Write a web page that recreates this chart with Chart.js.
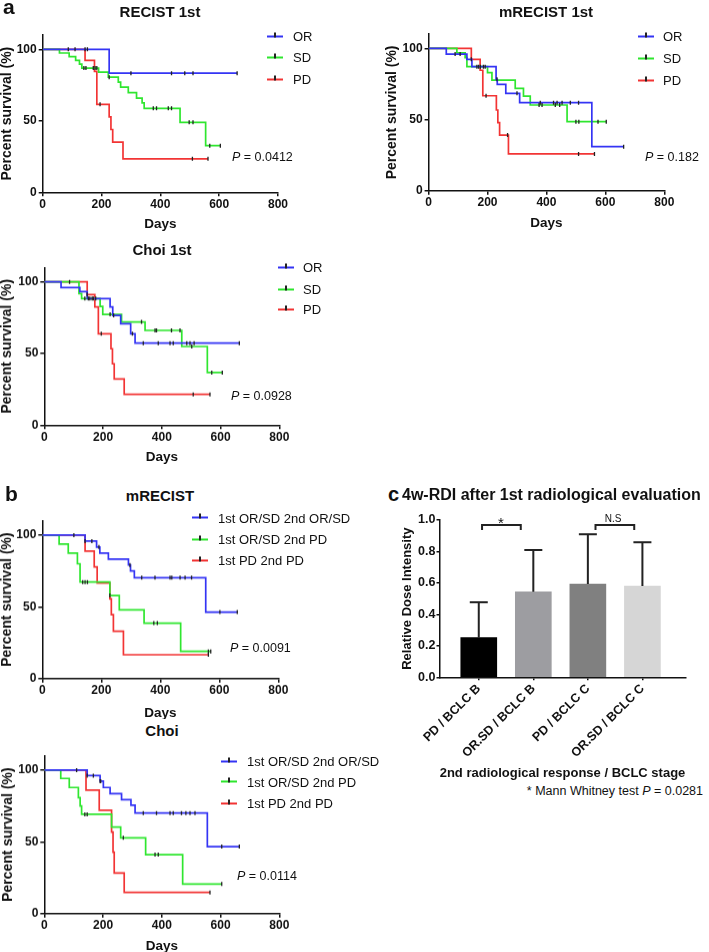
<!DOCTYPE html>
<html lang="en">
<head>
<meta charset="UTF-8" />
<title>Survival and RDI</title>
<script src="https://cdn.jsdelivr.net/npm/chart.js"></script>
<style>
  body { margin: 0; width: 709px; height: 952px; position: relative; background: #fff;
         font-family: "Liberation Sans", Arial, sans-serif; color: #111; overflow: hidden; }
  .box { position: absolute; }
  .t { position: absolute; white-space: nowrap; transform: translateY(-50%); }
  .c { transform: translate(-50%, -50%); }
  .title { font-weight: bold; font-size: 15px; }
  .letter { font-weight: bold; font-size: 21px; }
  .pval { font-size: 12.5px; }
  .leg { position: absolute; white-space: nowrap; font-size: 13px; transform: translateY(-50%); }
  .ln { position: absolute; top: 50%; height: 2px; width: 16px; margin-top: -1px; }
  .ln::after { content: ""; position: absolute; left: 7px; top: -3px; width: 1.5px; height: 5px; background: #222; }
</style>
</head>
<body>
<div class="box" id="wA1"><canvas id="a1"></canvas></div>
<div class="box" id="wA2"><canvas id="a2"></canvas></div>
<div class="box" id="wA3"><canvas id="a3"></canvas></div>
<div class="box" id="wB1"><canvas id="b1"></canvas></div>
<div class="box" id="wB2"><canvas id="b2"></canvas></div>
<div class="box" id="wC"><canvas id="c1"></canvas></div>

<div class="t letter" style="left:3px;top:7px">a</div>
<div class="t letter" style="left:5px;top:494px">b</div>
<div class="t letter" style="left:388px;top:494px;font-size:20px">c</div>

<div class="t title c" style="left:160px;top:11px">RECIST 1st</div>
<div class="t title c" style="left:546px;top:11px">mRECIST 1st</div>
<div class="t title c" style="left:162px;top:249px">Choi 1st</div>
<div class="t title c" style="left:160px;top:495px">mRECIST</div>
<div class="t title c" style="left:162px;top:730px">Choi</div>
<div class="t title" style="left:402px;top:495px;font-size:16px">4w-RDI after 1st radiological evaluation</div>

<div class="t pval" style="left:232px;top:157px"><i>P</i> = 0.0412</div>
<div class="t pval" style="left:645px;top:157px"><i>P</i> = 0.182</div>
<div class="t pval" style="left:231px;top:396px"><i>P</i> = 0.0928</div>
<div class="t pval" style="left:230px;top:648px"><i>P</i> = 0.0091</div>
<div class="t pval" style="left:237px;top:876px"><i>P</i> = 0.0114</div>

<div class="t c" style="left:501px;top:522px;font-size:15px">*</div>
<div class="t c" style="left:613px;top:518px;font-size:10px">N.S</div>
<div class="t pval" style="right:6px;top:791px">* Mann Whitney test <i>P</i> = 0.0281</div>

<script>
const FONT = '"Liberation Sans", Arial, sans-serif';
const BLUE = '#3434f4', GREEN = '#2fe62f', RED = '#f23434';

// ---- KM data: [day, percent survival] after each drop; censored days ----
// a: RECIST 1st
const recistOR = [[0,100],[226,83.3],[661,83.3]];
const recistORc = [87,110,144,152,300,438,483,511,661];
const recistSD = [[0,100],[57,97.4],[90,94.9],[112,92.3],[125,89.7],[133,86.9],[190,84.0],[223,80.5],[257,77.0],[265,73.5],[291,69.7],[319,65.9],[338,62.5],[345,58.7],[467,48.9],[554,32.6],[604,32.6]];
const recistSDc = [140,147,172,178,184,226,376,387,427,438,498,511,568,604];
const recistPD = [[0,100],[144,92.3],[176,84.6],[184,61.5],[226,52.7],[232,43.9],[238,35.1],[273,23.4],[562,23.4]];
const recistPDc = [195,509,562];

// a: mRECIST 1st
const mrecistOR = [[0,100],[60,96.0],[130,92.3],[147,87.1],[229,78.2],[233,74.7],[262,68.4],[309,61.8],[554,30.9],[662,30.9]];
const mrecistORc = [90,107,170,186,232,300,379,424,436,453,481,509,662];
const mrecistSD = [[0,100],[96,96.8],[124,93.5],[130,87.1],[200,82.9],[215,77.7],[294,71.9],[322,66.5],[345,60.2],[470,48.5],[603,48.5]];
const mrecistSDc = [164,176,192,375,385,430,445,500,510,575,603];
const mrecistPD = [[0,100],[145,92.3],[175,84.6],[184,66.7],[230,56.7],[235,47.8],[241,39.1],[271,25.8],[563,25.8]];
const mrecistPDc = [145,195,268,509,563];

// a: Choi 1st
const choiOR = [[0,100],[57,96.0],[121,93.2],[146,88.3],[224,82.5],[233,76.6],[260,70.8],[294,63.8],[309,57.2],[664,57.2]];
const choiORc = [155,167,236,300,337,388,428,439,485,496,510,664];
const choiSD = [[0,100],[118,91.8],[127,88.3],[190,82.9],[199,77.3],[263,72.0],[343,66.1],[468,54.9],[555,36.7],[606,36.7]];
const choiSDc = [86,138,150,163,175,224,331,377,382,433,462,502,570,606];
const choiPD = [[0,100],[146,91.1],[172,82.5],[184,63.8],[227,53.3],[232,42.8],[238,32.2],[272,21.5],[564,21.5]];
const choiPDc = [146,194,507,564];

// b: mRECIST, 1st/2nd response
const bmOR = [[0,100],[145,95.8],[184,91.7],[195,87.5],[224,83.3],[292,79.2],[299,75.0],[312,70.3],[554,46.3],[661,46.3]];
const bmORc = [107,145,168,192,297,337,382,433,439,467,484,506,602,661];
const bmSD = [[0,100],[57,93.8],[88,87.5],[119,80.0],[128,67.3],[229,57.9],[261,47.9],[345,38.6],[469,18.9],[571,18.9]];
const bmSDc = [137,145,153,229,378,390,563,571];
const bmPD = [[0,100],[145,88.9],[176,77.8],[186,66.6],[229,55.6],[234,44.6],[241,33.0],[275,16.6],[563,16.6]];
const bmPDc = [563];

// b: Choi, 1st/2nd response
const bcOR = [[0,100],[146,96.2],[190,92.3],[201,87.9],[224,83.6],[263,79.4],[295,75.5],[309,70.1],[555,46.7],[664,46.7]];
const bcORc = [110,146,167,190,192,337,382,428,439,467,482,496,513,604,664];
const bcSD = [[0,100],[56,94.2],[85,87.9],[116,80.8],[122,75.0],[127,69.2],[229,60.3],[260,52.8],[345,41.1],[471,20.6],[604,20.6]];
const bcSDc = [138,146,269,377,388,604];
const bcPD = [[0,100],[142,86.0],[187,72.0],[229,56.8],[234,42.8],[238,28.3],[272,14.7],[564,14.7]];
const bcPDc = [564];

const legA = ['OR', 'SD', 'PD'];
const legB = ['1st OR/SD 2nd OR/SD', '1st OR/SD 2nd PD', '1st PD 2nd PD'];

// ---- c: 4w-RDI bars ----
const rdiCats = ['PD / BCLC B', 'OR.SD / BCLC B', 'PD / BCLC C', 'OR.SD / BCLC C'];
const rdiMean = [0.252, 0.544, 0.593, 0.580];
const rdiSD = [0.225, 0.265, 0.316, 0.278];
const rdiColors = ['#000000', '#9d9da1', '#808080', '#d6d6d6'];
const rdiBrackets = [[0.06, 0.77, 0.968], [2.14, 2.85, 0.968]];

function stepAt(steps, t) {
  let v = steps[0][1];
  steps.forEach(([x, y]) => { if (x <= t) v = y; });
  return v;
}

function place(id, box) {
  const w = document.getElementById(id);
  w.style.left = box.l + 'px';
  w.style.top = box.t + 'px';
  w.style.width = (box.r - box.l) + 'px';
  w.style.height = (box.b - box.t) + 'px';
}

function axisStyle() {
  return {
    ticks: { color: '#111', font: { family: FONT, size: 12, weight: 'bold' } },
    grid: { drawOnChartArea: false, tickLength: 4, color: '#111', lineWidth: 1.5 },
    border: { color: '#111', width: 1.5 }
  };
}

function kmChart(id, wrap, box, area, series) {
  place(wrap, box);
  const datasets = [];
  series.forEach(s => {
    datasets.push({
      data: s.cens.map(t => ({ x: t, y: stepAt(s.steps, t) })),
      showLine: false, pointStyle: 'line', rotation: 90, pointRadius: 2,
      pointBorderColor: '#222', pointBorderWidth: 1.3, order: 0
    });
    datasets.push({
      data: s.steps.map(([x, y]) => ({ x, y })),
      borderColor: s.color, borderWidth: 1.7, stepped: true, pointRadius: 0,
      fill: false, order: 1
    });
  });
  const ys = axisStyle(), xs = axisStyle();
  new Chart(document.getElementById(id), {
    type: 'line',
    data: { datasets },
    options: {
      responsive: true, maintainAspectRatio: false, animation: false,
      layout: { padding: { left: 0, bottom: 0, top: area.top - box.t, right: box.r - area.right } },
      plugins: { legend: { display: false }, tooltip: { enabled: false } },
      scales: {
        x: Object.assign(xs, {
          type: 'linear', min: 0, max: 800,
          ticks: Object.assign(xs.ticks, { stepSize: 200, padding: 1, maxRotation: 0 }),
          title: { display: true, text: 'Days', color: '#111', padding: 0,
                   font: { family: FONT, size: 13.5, weight: 'bold', lineHeight: 1 } },
          afterFit: s => { s.height = box.b - area.bottom; }
        }),
        y: Object.assign(ys, {
          min: 0, max: 110,
          afterBuildTicks: s => { s.ticks = [0, 50, 100].map(v => ({ value: v })); },
          ticks: Object.assign(ys.ticks, { padding: 2 }),
          title: { display: true, text: 'Percent survival (%)', color: '#111', padding: 0,
                   font: { family: FONT, size: 14, weight: 'bold', lineHeight: 1 } },
          afterFit: s => { s.width = area.left - box.l; }
        })
      }
    }
  });
}

function legend(lineX, textX, rowsY, labels, colors) {
  labels.forEach((lab, i) => {
    const d = document.createElement('div');
    d.className = 'leg';
    d.style.left = textX + 'px';
    d.style.top = rowsY[i] + 'px';
    const ln = document.createElement('span');
    ln.className = 'ln';
    ln.style.left = (lineX - textX) + 'px';
    ln.style.background = colors[i];
    d.appendChild(ln);
    d.appendChild(document.createTextNode(lab));
    document.body.appendChild(d);
  });
}

const cols = [BLUE, GREEN, RED];

kmChart('a1', 'wA1', { l: 0, t: 0, r: 300, b: 231 }, { left: 42.7, right: 278, top: 35, bottom: 192.3 }, [
  { steps: recistOR, cens: recistORc, color: BLUE },
  { steps: recistSD, cens: recistSDc, color: GREEN },
  { steps: recistPD, cens: recistPDc, color: RED }]);
kmChart('a2', 'wA2', { l: 384.7, t: 0, r: 690, b: 230 }, { left: 428.3, right: 664, top: 34.1, bottom: 190.7 }, [
  { steps: mrecistOR, cens: mrecistORc, color: BLUE },
  { steps: mrecistSD, cens: mrecistSDc, color: GREEN },
  { steps: mrecistPD, cens: mrecistPDc, color: RED }]);
kmChart('a3', 'wA3', { l: 0, t: 250, r: 300, b: 463.5 }, { left: 44.3, right: 279.3, top: 267.4, bottom: 424.3 }, [
  { steps: choiOR, cens: choiORc, color: BLUE },
  { steps: choiSD, cens: choiSDc, color: GREEN },
  { steps: choiPD, cens: choiPDc, color: RED }]);
kmChart('b1', 'wB1', { l: 0, t: 505, r: 300, b: 718.7 }, { left: 42.3, right: 278.3, top: 520.7, bottom: 677.7 }, [
  { steps: bmOR, cens: bmORc, color: BLUE },
  { steps: bmSD, cens: bmSDc, color: GREEN },
  { steps: bmPD, cens: bmPDc, color: RED }]);
kmChart('b2', 'wB2', { l: 1, t: 740, r: 300, b: 951.7 }, { left: 44.3, right: 279.3, top: 755.7, bottom: 912.7 }, [
  { steps: bcOR, cens: bcORc, color: BLUE },
  { steps: bcSD, cens: bcSDc, color: GREEN },
  { steps: bcPD, cens: bcPDc, color: RED }]);

legend(267, 293, [36, 57.3, 79], legA, cols);
legend(638, 663, [36, 58, 80], legA, cols);
legend(278, 303, [267.3, 289, 309.3], legA, cols);
legend(192, 218, [517.7, 539, 560], legB, cols);
legend(221, 247, [761, 781.7, 803.3], legB, cols);

// ---- bar chart with SD error bars ----
const cBox = { l: 400.5, t: 490, r: 709, b: 780 };
const cArea = { left: 439, right: 685, top: 520, bottom: 677.3 };
place('wC', cBox);

const errorBars = {
  id: 'errorBars',
  afterDatasetsDraw(chart) {
    const { ctx, scales: { x, y } } = chart;
    ctx.save();
    ctx.strokeStyle = '#222';
    ctx.lineWidth = 2;
    rdiMean.forEach((m, i) => {
      const px = x.getPixelForValue(i);
      const y0 = y.getPixelForValue(m), y1 = y.getPixelForValue(m + rdiSD[i]);
      ctx.beginPath();
      ctx.moveTo(px, y0); ctx.lineTo(px, y1);
      ctx.moveTo(px - 9, y1); ctx.lineTo(px + 9, y1);
      ctx.stroke();
    });
    rdiBrackets.forEach(([a, b, h]) => {
      ctx.beginPath();
      ctx.moveTo(x.getPixelForValue(a), y.getPixelForValue(h - 0.032));
      ctx.lineTo(x.getPixelForValue(a), y.getPixelForValue(h));
      ctx.lineTo(x.getPixelForValue(b), y.getPixelForValue(h));
      ctx.lineTo(x.getPixelForValue(b), y.getPixelForValue(h - 0.032));
      ctx.stroke();
    });
    ctx.restore();
  }
};

const cx = axisStyle(), cy = axisStyle();
new Chart(document.getElementById('c1'), {
  type: 'bar',
  data: {
    datasets: [{
      data: rdiMean.map((v, i) => ({ x: i, y: v })),
      backgroundColor: rdiColors, borderWidth: 0, barThickness: 36
    }]
  },
  options: {
    responsive: true, maintainAspectRatio: false, animation: false,
    layout: { padding: { left: 0, bottom: 0, top: cArea.top - cBox.t, right: cBox.r - cArea.right } },
    plugins: { legend: { display: false }, tooltip: { enabled: false } },
    scales: {
      x: Object.assign(cx, {
        type: 'linear', min: -0.72, max: 3.79, offset: false,
        afterBuildTicks: s => { s.ticks = rdiCats.map((_, i) => ({ value: i })); },
        ticks: Object.assign(cx.ticks, { callback: v => rdiCats[v], minRotation: 45, maxRotation: 45,
                                         autoSkip: false, padding: 1, font: { family: FONT, size: 12.5, weight: 'bold' } }),
        grid: Object.assign(cx.grid, { tickLength: 3, offset: false }),
        title: { display: true, text: '2nd radiological response / BCLC stage', color: '#111', padding: 0,
                 font: { family: FONT, size: 13, weight: 'bold', lineHeight: 1 } },
        afterFit: s => { s.height = cBox.b - cArea.bottom; }
      }),
      y: Object.assign(cy, {
        min: 0, max: 1,
        ticks: Object.assign(cy.ticks, { stepSize: 0.2, padding: 1, callback: v => v.toFixed(1),
                                         font: { family: FONT, size: 12.5, weight: 'bold' } }),
        grid: Object.assign(cy.grid, { tickLength: 3 }),
        title: { display: true, text: 'Relative Dose Intensity', color: '#111', padding: 0,
                 font: { family: FONT, size: 13, weight: 'bold', lineHeight: 1 } },
        afterFit: s => { s.width = cArea.left - cBox.l; }
      })
    }
  },
  plugins: [errorBars]
});
</script>
</body>
</html>
